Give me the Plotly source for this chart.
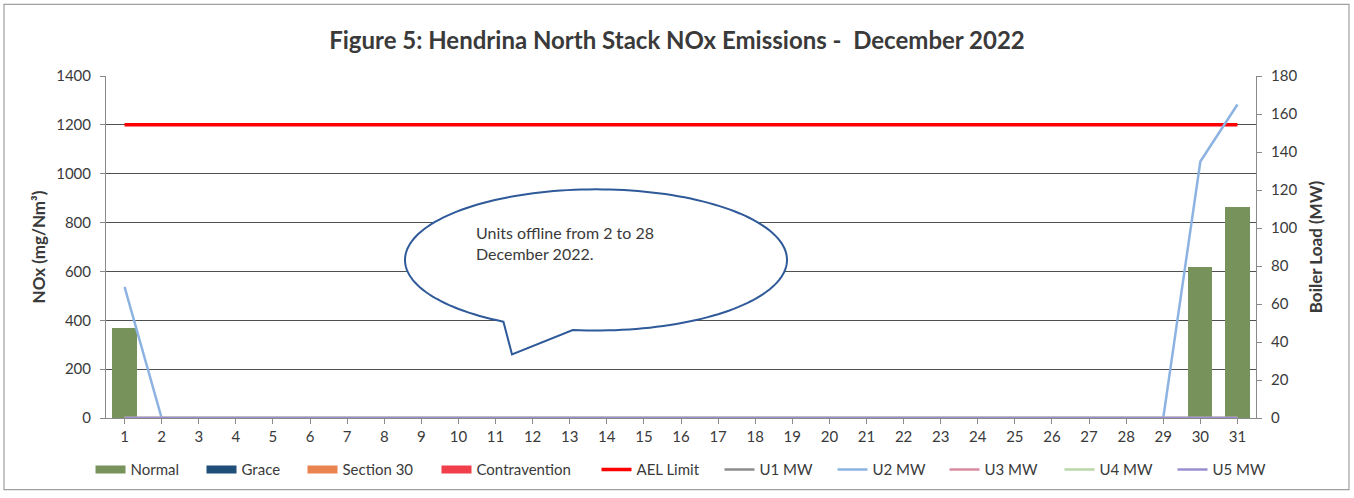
import numpy as np
import plotly.graph_objects as go

# ---------------- data ----------------
days = [str(d) for d in range(1, 32)]
normal = [370] + [None] * 27 + [None, 620, 865]
grace = [None] * 31
section30 = [None] * 31
contravention = [None] * 31
ael_limit = [1200] * 31
u1_mw = [0] * 31
u2_mw = [69] + [0] * 28 + [135, 165]
u3_mw = [0] * 31
u4_mw = [0] * 31
u5_mw = [0] * 31

y_ticks = list(range(0, 1401, 200))
y2_ticks = list(range(0, 181, 20))

# ---------------- layout geometry ----------------
W, H = 1354, 498
ML, MR, MT, MB = 106, 98, 76, 78
PW, PH = W - ML - MR, H - MT - MB

def px2x(px):
    return (px - ML) / PW

def px2y(py):
    return (H - MB - py) / PH

FONT = "Lato"
TXT = "#3a3a3a"

# legend slot (left edge of swatch, in px) for each entry
legend_px = [91, 202, 303, 437, 597, 720, 833, 945, 1060, 1173]
legend_ids = ["legend"] + [f"legend{i}" for i in range(2, 11)]

fig = go.Figure()

bar_series = [("Normal", normal, "#77925B"), ("Grace", grace, "#1F4E79"),
              ("Section 30", section30, "#E9834F"), ("Contravention", contravention, "#F03E4A")]
k = 0
for name, vals, col in bar_series:
    fig.add_trace(go.Bar(x=days, y=vals, name=name, marker_color=col,
                         marker_line_width=0, legendgroup=name, showlegend=False))
    # wide legend swatch
    fig.add_trace(go.Scatter(x=[None], y=[None], mode="lines", name=name, legendgroup=name,
                             line=dict(color=col, width=8), legend=legend_ids[k]))
    k += 1

fig.add_trace(go.Scatter(x=days, y=ael_limit, mode="lines", name="AEL Limit",
                         line=dict(color="#FF0000", width=3.5), legend=legend_ids[k]))
k += 1

mw_series = [("U1 MW", u1_mw, "#8C8C8C"), ("U2 MW", u2_mw, "#8DB3E2"),
             ("U3 MW", u3_mw, "#D98CA0"), ("U4 MW", u4_mw, "#B9D7A8"),
             ("U5 MW", u5_mw, "#9B8FD0")]
for name, vals, col in mw_series:
    fig.add_trace(go.Scatter(x=days, y=vals, mode="lines", name=name, yaxis="y2",
                             line=dict(color=col, width=2.5), legend=legend_ids[k]))
    k += 1

# ---------------- callout ----------------
cx, cy, rx, ry = 596, 261, 191, 71
th = np.radians(np.linspace(119, 457, 160))
pts = [(cx + rx * np.cos(t), cy + ry * np.sin(t)) for t in th]
pts.append((512, 356))
path = "M " + " L ".join(f"{px2x(a):.5f},{px2y(b):.5f}" for a, b in pts) + " Z"

shapes = [
    dict(type="path", path=path, xref="paper", yref="paper",
         fillcolor="white", line=dict(color="#2F5A9A", width=2), layer="above"),
    dict(type="rect", xref="paper", yref="paper",
         x0=px2x(4), x1=px2x(1349), y0=px2y(492), y1=px2y(4),
         line=dict(color="#A0A0A0", width=1.2), layer="below"),
]

annotations = [
    dict(text="Units offline from 2 to 28<br>December 2022.", xref="paper", yref="paper",
         x=px2x(474), y=px2y(244), xanchor="left", yanchor="middle", align="left",
         showarrow=False, font=dict(family=FONT, size=16, color=TXT)),
]

axis_common = dict(showline=True, linecolor="#8a8a8a", linewidth=1,
                   ticks="outside", ticklen=5, tickcolor="#8a8a8a",
                   tickfont=dict(family=FONT, size=15, color=TXT), automargin=False)

legends = {}
for lid, lx in zip(legend_ids, legend_px):
    legends[lid] = dict(orientation="h", x=px2x(lx - 0.5), xanchor="left",
                        y=px2y(472), yanchor="middle",
                        font=dict(family=FONT, size=15, color=TXT),
                        bgcolor="rgba(0,0,0,0)")

fig.update_layout(
    width=W, height=H,
    margin=dict(l=ML, r=MR, t=MT, b=MB),
    paper_bgcolor="white", plot_bgcolor="white",
    barmode="stack", bargap=0.35,
    font=dict(family=FONT, size=15, color=TXT),
    title=dict(text="<b>Figure 5: Hendrina North Stack NOx Emissions -  December 2022</b>",
               x=0.5, xref="container", xanchor="center",
               y=1 - 41 / H, yref="container", yanchor="middle",
               font=dict(family=FONT, size=24, color=TXT)),
    xaxis=dict(type="category", range=[-0.5, 30.5], showgrid=False, **axis_common),
    yaxis=dict(range=[0, 1400], tickvals=y_ticks, showgrid=True, gridcolor="#505050",
               gridwidth=1, zeroline=False, ticklabelstandoff=6,
               title=dict(text="<b>NOx (mg/Nm³)</b>", font=dict(family=FONT, size=17, color=TXT),
                          standoff=6),
               **axis_common),
    yaxis2=dict(range=[0, 180], tickvals=y2_ticks, overlaying="y", side="right",
                showgrid=False, zeroline=False, ticklabelstandoff=6,
                title=dict(text="<b>Boiler Load (MW)</b>", font=dict(family=FONT, size=17, color=TXT),
                           standoff=13),
                **axis_common),
    shapes=shapes,
    annotations=annotations,
    **legends,
)

fig.write_html("out.html", config={"displayModeBar": False},
               post_script="document.body.style.margin='0';")
